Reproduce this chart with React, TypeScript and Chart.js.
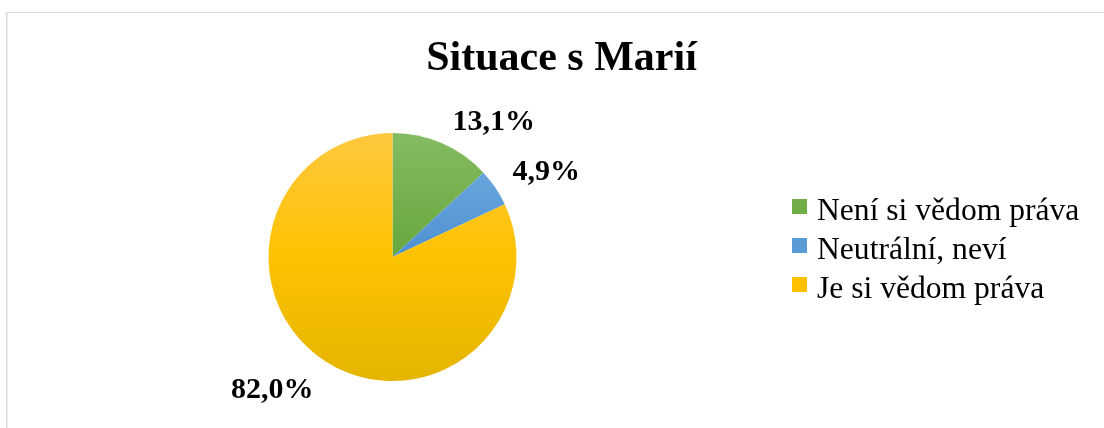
import { useEffect, useRef } from "react";
import { Chart, registerables } from "chart.js";

Chart.register(...registerables);

// ---- data ----
const chartTitle = "Situace s Marií";
const categories = ["Není si vědom práva", "Neutrální, neví", "Je si vědom práva"];
const shares = [13.1, 4.9, 82.0];

// ---- styles ----
const FONT = '"Liberation Serif", "Times New Roman", serif';
const RADIUS = 124;
const gradientStops: string[][] = [
  ["#84bc62", "#67a73c", "#5a9a30"],
  ["#74afe3", "#4e90d1", "#3f80c0"],
  ["#ffc83e", "#fdc200", "#e5b500"],
];
const legendSolid = ["#70ad47", "#5b9bd5", "#ffc000"];

const formatShare = (v: number) => v.toFixed(1).replace(".", ",") + "%";

const decorPlugin = {
  id: "decor",
  beforeDraw(chart: any) {
    const ctx = chart.ctx as CanvasRenderingContext2D;
    ctx.save();
    ctx.strokeStyle = "#d9d9d9";
    ctx.lineWidth = 1;
    ctx.beginPath();
    ctx.moveTo(6, 12.5);
    ctx.lineTo(chart.width, 12.5);
    ctx.stroke();
    ctx.lineWidth = 1.5;
    ctx.beginPath();
    ctx.moveTo(6.75, 12);
    ctx.lineTo(6.75, chart.height);
    ctx.stroke();
    ctx.restore();
  },
  afterDraw(chart: any) {
    const ctx = chart.ctx as CanvasRenderingContext2D;
    ctx.save();
    // title
    ctx.fillStyle = "#000000";
    ctx.font = `bold 42px ${FONT}`;
    ctx.textAlign = "center";
    ctx.textBaseline = "alphabetic";
    ctx.fillText(chartTitle, 561.5, 69.5);

    // data labels
    const meta = chart.getDatasetMeta(0);
    ctx.font = `bold 30px ${FONT}`;
    meta.data.forEach((arc: any, i: number) => {
      const p = arc.getProps(["x", "y", "startAngle", "endAngle", "outerRadius"], true);
      const mid = (p.startAngle + p.endAngle) / 2;
      const dx = Math.cos(mid);
      const dy = Math.sin(mid);
      const text = formatShare(chart.data.datasets[0].data[i]);
      const w = ctx.measureText(text).width;
      const D = p.outerRadius + 16;
      const cx = p.x + dx * D + Math.sign(dx) * (w / 2 + 4);
      const cy = p.y + dy * D + Math.sign(dy) * 10.5;
      ctx.textAlign = "center";
      ctx.fillText(text, cx, cy + 12.2);
    });

    // legend
    ctx.font = `31.6px ${FONT}`;
    ctx.textAlign = "left";
    (chart.data.labels as string[]).forEach((label, i) => {
      const base = 220 + i * 39;
      ctx.fillStyle = legendSolid[i];
      ctx.fillRect(792, base - 21, 15, 15);
      ctx.fillStyle = "#000000";
      ctx.fillText(label, 817, base);
    });
    ctx.restore();
  },
};

export default function App() {
  const canvasRef = useRef<HTMLCanvasElement | null>(null);

  useEffect(() => {
    if (!canvasRef.current) return;
    const chart = new Chart(canvasRef.current, {
      type: "pie",
      data: {
        labels: categories,
        datasets: [
          {
            data: shares,
            borderWidth: 0,
            radius: RADIUS,
            backgroundColor: (c: any) => {
              const area = c.chart.chartArea;
              const i = c.dataIndex ?? 0;
              if (!area) return legendSolid[i];
              const cy = (area.top + area.bottom) / 2;
              const g = c.chart.ctx.createLinearGradient(0, cy - RADIUS, 0, cy + RADIUS);
              const s = gradientStops[i];
              g.addColorStop(0, s[0]);
              g.addColorStop(0.5, s[1]);
              g.addColorStop(1, s[2]);
              return g;
            },
          } as any,
        ],
      },
      options: {
        animation: false,
        responsive: true,
        maintainAspectRatio: false,
        layout: { padding: { left: 0, right: 319, top: 133, bottom: 47 } },
        plugins: {
          legend: { display: false },
          title: { display: false },
          tooltip: { enabled: false },
        },
      },
      plugins: [decorPlugin],
    });
    return () => chart.destroy();
  }, []);

  return (
    <div style={{ position: "absolute", left: 0, top: 0, width: 1104, height: 428, background: "#ffffff" }}>
      <canvas ref={canvasRef} />
    </div>
  );
}
